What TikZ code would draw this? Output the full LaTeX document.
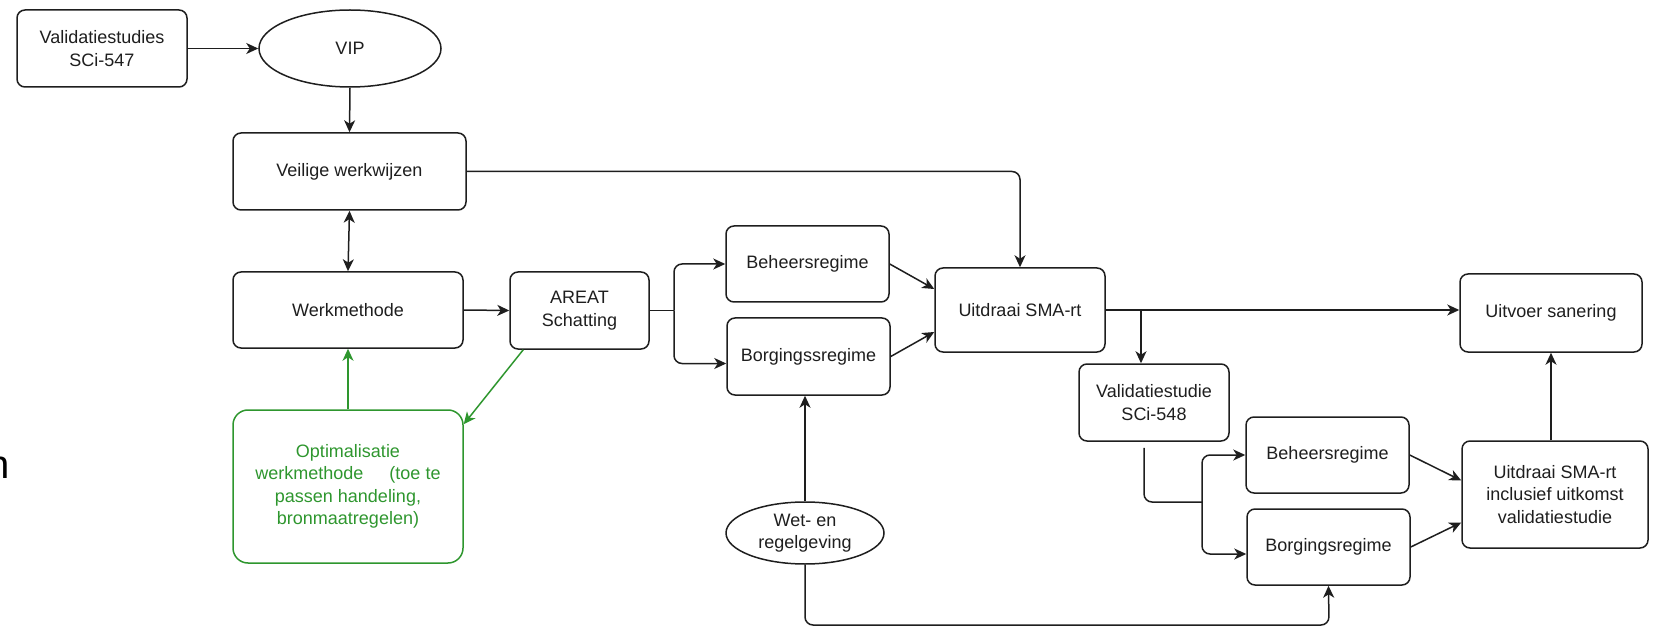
\documentclass[tikz,border=0pt]{standalone}
\usepackage{fontspec}
\setmainfont{Liberation Sans}
\usetikzlibrary{arrows.meta}
\usetikzlibrary{shapes.geometric}
\definecolor{lijn}{RGB}{30,30,30}
\definecolor{groen}{RGB}{46,150,46}
\tikzset{>={Stealth[length=12pt,width=11pt,inset=3.5pt]},
  blok/.style={draw=lijn, line width=1.5pt, rounded corners=8pt, align=center,
    inner sep=0pt, text=lijn, font=\fontsize{18}{22.5}\selectfont},
  ovaal/.style={ellipse, draw=lijn, line width=1.5pt, align=center,
    inner sep=0pt, text=lijn, font=\fontsize{18}{22}\selectfont},
  pijl/.style={->, draw=lijn, line width=1.5pt},
  groenpijl/.style={->, draw=groen, line width=1.5pt}}

\begin{document}
\begin{tikzpicture}[x=1pt,y=-1pt]

    \useasboundingbox (0,0) rectangle (1660,628);

    \node (rest) [anchor=base east, inner sep=0pt, text=black,
      font=\fontsize{40}{40}\selectfont] at (10,478) {n};

	\node (val1) [blok, minimum width=170pt, minimum height=77pt] at (102,48.5) {Validatiestudies\\SCi-547};
	\node (vip) [ovaal, minimum width=182pt, minimum height=77pt] at (350,48.5) {VIP};
	\node (veilig) [blok, minimum width=233pt, minimum height=77pt] at (349.5,171.5) {Veilige werkwijzen};
	\node (werk) [blok, minimum width=230pt, minimum height=76pt] at (348,310) {Werkmethode};
	\node (opt) [blok, draw=groen, text=groen, rounded corners=15pt, minimum width=230pt, minimum height=153pt]
	  at (348,486.5) {Optimalisatie\\werkmethode\hspace{21pt} (toe te\\passen handeling,\\bronmaatregelen)};
	\node (areat) [blok, minimum width=139pt, minimum height=77pt] at (579.5,310.5) {AREAT\\Schatting};

	\node (beh1) [blok, minimum width=163pt, minimum height=76pt] at (807.5,264) {Beheersregime};
	\node (borg1) [blok, minimum width=163pt, minimum height=77pt] at (808.5,356.5) {Borgingssregime};
	\node (wet) [ovaal, minimum width=158pt, minimum height=62pt] at (805,533) {Wet- en\\regelgeving};
	\node (uit1) [blok, minimum width=170pt, minimum height=84pt] at (1020,310) {Uitdraai SMA-rt};

	\node (val2) [blok, minimum width=150pt, minimum height=77pt] at (1154,402.5) {Validatiestudie\\SCi-548};
	\node (beh2) [blok, minimum width=163pt, minimum height=76pt] at (1327.5,455) {Beheersregime};
	\node (borg2) [blok, minimum width=163pt, minimum height=76pt] at (1328.5,547) {Borgingsregime};
	\node (uitvoer) [blok, minimum width=182pt, minimum height=78pt] at (1551,313) {Uitvoer sanering};
	\node (uit2) [blok, minimum width=186pt, minimum height=107pt] at (1555,494.5) {Uitdraai SMA-rt\\inclusief uitkomst\\validatiestudie};

	\coordinate (split1) at (674,310.5);
	\coordinate (tak) at (1141,310);
	\coordinate (split2) at (1202,502);
	\coordinate (onder) at (1329,625);


	\draw [pijl] (val1.east) -- (vip.west);
	\draw [pijl] (vip.south) -- (veilig.north);
	\draw [pijl, <->] (veilig.south) -- (werk.north);
	\draw [pijl] (werk.east) -- (areat.west);
	\draw [pijl, rounded corners=8pt] (veilig.east) -| (uit1.north);

	\draw [groenpijl] (opt.north) -- (werk.south);
	\draw [groenpijl] ([xshift=14pt]areat.south west) -- ([yshift=-15pt]opt.north east);

	\draw [pijl, -] (areat.east) -- (split1);
	\draw [pijl, rounded corners=8pt] (split1) |- (beh1.west);
	\draw [pijl, rounded corners=8pt] (split1) |- ([yshift=-7pt]borg1.west);
	\draw [pijl] (beh1.east) -- ([yshift=21pt]uit1.west);
	\draw [pijl] (borg1.east) -- ([yshift=-22pt]uit1.west);

	\draw [pijl] (wet.north) -- (wet.north |- borg1.south);
	\draw [pijl, rounded corners=8pt] (wet.south) |- (onder) -- (borg2.south);

	\draw [pijl] (uit1.east) -- (uit1.east -| uitvoer.west);
	\draw [pijl] (tak) -- (tak |- val2.north);
	\draw [pijl, -, rounded corners=8pt, shorten <=6pt] ([xshift=-10pt]val2.south) |- (split2);
	\draw [pijl, rounded corners=8pt] (split2) |- (beh2.west);
	\draw [pijl, rounded corners=8pt] (split2) |- ([yshift=-7pt]borg2.west);
	\draw [pijl] (beh2.east) -- ([yshift=14pt]uit2.west);
	\draw [pijl] (borg2.east) -- ([yshift=-28pt]uit2.west);
	\draw [pijl] (uitvoer.south |- uit2.north) -- (uitvoer.south);


\end{tikzpicture}
\end{document}
